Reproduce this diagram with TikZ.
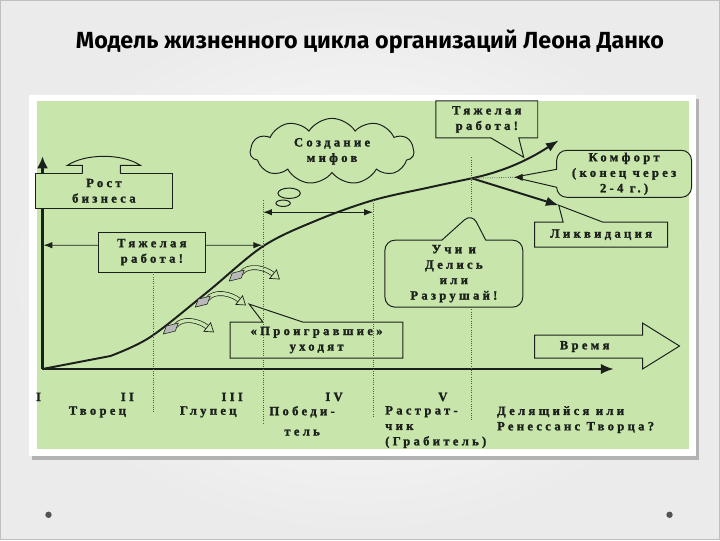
\documentclass[tikz,border=0pt]{standalone}
\usepackage{fontspec}
\setmainfont{Liberation Serif}
\newfontfamily\titlefont{Fira Sans}
\newfontfamily\diagfont[LetterSpace=26,FakeBold=1.6]{Liberation Serif Bold}
\usetikzlibrary{arrows.meta,shapes.callouts,shapes.symbols}
\definecolor{panelgreen}{RGB}{200,230,172}
\definecolor{inkgray}{RGB}{28,32,28}
\newcommand{\diagsize}{\fontsize{9}{11}\selectfont}

\begin{document}
\begin{tikzpicture}[x=0.025cm,y=-0.025cm]
  \tikzset{
    txt/.style={font=\diagfont\diagsize, text=inkgray, align=center, inner sep=0pt},
    boxnode/.style={txt, draw=inkgray, fill=panelgreen, line width=0.7pt},
    roundnode/.style={boxnode, rounded corners=0.25cm},
    outline/.style={draw=inkgray, fill=panelgreen, line width=0.7pt},
    curve/.style={draw=inkgray, line width=1.4pt, line join=round},
    guide/.style={draw=inkgray!75, densely dotted, line width=0.6pt},
    thinarrow/.style={draw=inkgray, line width=0.6pt},
    bigtip/.style={-{Latex[length=0.32cm,width=0.24cm]}},
    loser/.pic={
      \draw[line width=0.5pt, draw=inkgray, double=panelgreen, double distance=2.4pt]
        (13,-7) .. controls (20,-16) and (36,-13) .. (45,-6);
      \filldraw[draw=inkgray, fill=panelgreen, line width=0.5pt]
        (48.4,-10.3) -- (51.3,-1.1) -- (41.6,-1.7) -- cycle;
      \filldraw[draw=inkgray, fill=gray!55, line width=0.4pt]
        (1,1) -- (13,-2) -- (16,-10) -- (4,-7) -- cycle;
    }
  }
  \shade[inner color=white, outer color=gray!16] (0,0) rectangle (720,540);
  \draw[gray!50, line width=0.8pt] (0,0) rectangle (720,540);
  \fill[black!30] (31,99) rectangle (700,460);
  \fill[white] (28,95) rectangle (697,456);
  \fill[panelgreen] (36,101) rectangle (690,449);
  \fill[gray!65!black] (48,515) circle[radius=0.08cm];
  \fill[gray!65!black] (670,515) circle[radius=0.08cm];

  \node[font=\titlefont\bfseries\fontsize{16.6}{19}\selectfont, text=black] (title) at (370,41)
    {Модель жизненного цикла организаций Леона Данко};

  \coordinate (origin) at (42,369);
  \coordinate (ytop) at (42,156);
  \coordinate (xend) at (614,369);
  \coordinate (branch) at (472,178);
  \coordinate (worktip) at (559,140);
  \coordinate (liqtip) at (559,205);
  \coordinate (comftip) at (514,177);
  \coordinate (hardL) at (43,245);
  \coordinate (hardR) at (262,245);
  \coordinate (mythL) at (263,212);
  \coordinate (mythR) at (373,212);

  \draw[inkgray, line width=2pt, -{Latex[length=0.3cm,width=0.28cm]}] (origin) -- (ytop);
  \draw[inkgray, line width=1.4pt, -{Latex[length=0.32cm,width=0.26cm]}] (origin) -- (xend);

  \draw[curve] (origin) -- (110,356) -- plot[smooth, tension=0.55] coordinates
    {(110,356) (150,337) (207,292) (263,246) (317,220) (373,200) (430,187) (472,178)};
  \draw[curve, bigtip] (branch) .. controls (500,172) and (525,162) .. (worktip);
  \draw[curve, bigtip] (branch) -- (liqtip);

  \pic at (162,333) {loser};
  \pic at (194,306) {loser};
  \pic at (228,280) {loser};

  \node[boxnode, minimum width=3.425cm, minimum height=0.875cm] (rost) at (103.5,190.5) {Рост\\бизнеса};
  \fill[panelgreen] (82,174) -- (82,165) -- (67,165) .. controls (85,153) and (122,153) .. (140,165)
    -- (120,165) -- (120,174) -- cycle;
  \draw[inkgray, line width=0.7pt] (82,173.3) -- (82,165) -- (67,165) .. controls (85,153) and (122,153) .. (140,165)
    -- (120,165) -- (120,173.3);

  \node[boxnode, minimum width=2.675cm, minimum height=1cm] (hardwork) at (151.5,252) {Тяжелая\\работа!};
  \draw[thinarrow, -{Latex[length=0.22cm,width=0.16cm]}] ([yshift=0.175cm]hardwork.west) -- (hardL);
  \draw[thinarrow, -{Latex[length=0.22cm,width=0.16cm]}] ([yshift=0.175cm]hardwork.east) -- (hardR);

  \node[txt, cloud, draw=inkgray, fill=panelgreen, line width=0.7pt, cloud puffs=11,
    cloud puff arc=115, cloud ignores aspect, minimum width=4.1cm, minimum height=1.65cm] (myth) at (332,151)
    {Создание\\мифов};
  \draw[outline] (289,193) ellipse[x radius=0.28cm, y radius=0.13cm];
  \draw[outline] (283,203) ellipse[x radius=0.18cm, y radius=0.08cm];
  \draw[thinarrow, {Latex[length=0.22cm,width=0.16cm]}-{Latex[length=0.22cm,width=0.16cm]}] (mythL) -- (mythR);

  \node[boxnode, rectangle callout, callout absolute pointer={(524,157)}, callout pointer width=0.7cm,
    minimum width=2.55cm, minimum height=0.925cm] (hardtop) at (487,119) {Тяжелая\\работа!};

  \node[roundnode, rectangle callout, callout absolute pointer={(comftip)}, callout pointer width=0.45cm,
    minimum width=3.375cm, minimum height=1.175cm] (comfort) at (624.5,173.5) {Комфорт\\(конец через\\2-4 г.)};
  \draw[guide] (branch) -- (comftip);
  \draw[thinarrow, -{Latex[length=0.22cm,width=0.18cm]}] ([xshift=0.2cm]comftip) -- (comftip);

  \node[boxnode, rectangle callout, callout absolute pointer={(liqtip)}, callout pointer width=1cm,
    minimum width=3.325cm, minimum height=0.625cm] (liquid) at (601.5,234.5) {Ликвидация};

  \node[roundnode, rectangle callout, callout absolute pointer={(472,213)}, callout pointer width=1.1cm,
    minimum width=3.45cm, minimum height=1.675cm] (learn) at (454,273.5) {Учи и\\Делись\\или\\Разрушай!};

  \node[boxnode, rectangle callout, callout absolute pointer={(249,304)}, callout pointer width=1cm,
    minimum width=4.325cm, minimum height=0.9cm] (losers) at (316.5,340) {«Проигравшие»\\уходят};

  \draw[outline] (535,335) -- (643,335) -- (643,323) -- (680,346) -- (643,369) -- (643,358)
    -- (535,358) -- cycle;
  \node[txt] (vremya) at (585,346.5) {Время};

  \draw[guide] (153,272) -- (153,413);
  \draw[guide] (263,200) -- (263,423);
  \draw[guide] (373,200) -- (373,418);
  \draw[guide] (472,157) -- (472,213);
  \draw[guide] (472,307) -- (472,420);

  \node[txt] (stage1) at (38,397) {I};
  \node[txt] (stage2) at (127,397) {II};
  \node[txt] (stage3) at (232,397) {III};
  \node[txt] (stage4) at (334,397) {IV};
  \node[txt] (stage5) at (443,397) {V};
  \node[txt] (creator) at (97,412) {Творец};
  \node[txt] (fool) at (208,412) {Глупец};
  \node[txt, anchor=north] (winner) at (302,406) {Победи-\\[0.12cm]тель};
  \node[txt, anchor=north west, align=left] (waster) at (385,406) {Растрат-\\чик\\(Грабитель)};
  \node[txt, anchor=north west, align=left] (sharer) at (497,406) {Делящийся или\\Ренессанс Творца?};
\end{tikzpicture}
\end{document}
